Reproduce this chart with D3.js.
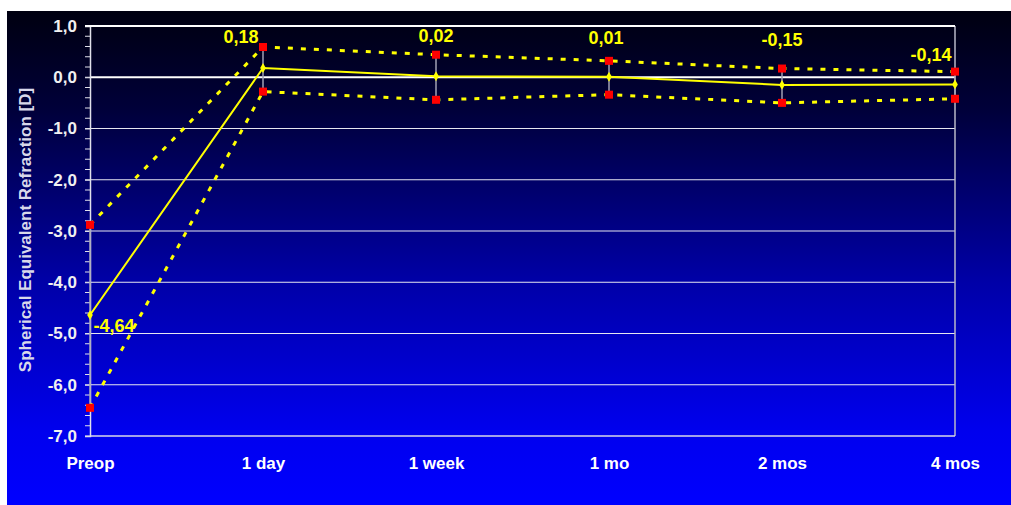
<!DOCTYPE html>
<html>
<head>
<meta charset="utf-8">
<script src="https://cdn.jsdelivr.net/npm/d3@7/dist/d3.min.js"></script>
<style>
  html, body { margin: 0; padding: 0; background: #ffffff; }
  svg { display: block; }
  text { font-family: "Liberation Sans", Arial, sans-serif; font-weight: bold; }
</style>
</head>
<body>
<svg id="chart" width="1011" height="505"></svg>
<script>
// Follow-up visits
const categories = ["Preop", "1 day", "1 week", "1 mo", "2 mos", "4 mos"];
// Mean spherical equivalent refraction (D)
const meanValues = [-4.64, 0.18, 0.02, 0.01, -0.15, -0.14];
// Upper and lower bounds of the spread at each visit (D)
const upperValues = [-2.88, 0.59, 0.44, 0.32, 0.17, 0.11];
const lowerValues = [-6.45, -0.28, -0.44, -0.34, -0.50, -0.42];
// Y axis tick labels
const yTicks = [1, 0, -1, -2, -3, -4, -5, -6, -7];
const yTickLabels = ["1,0", "0,0", "-1,0", "-2,0", "-3,0", "-4,0", "-5,0", "-6,0", "-7,0"];

const svg = d3.select("#chart");
const W = 1011, H = 505;
const plot = { left: 90, right: 955, top: 26, bottom: 436 };

// Background gradient panel
const defs = svg.append("defs");
const grad = defs.append("linearGradient")
  .attr("id", "bg").attr("x1", 0).attr("y1", 0).attr("x2", 0).attr("y2", 1);
grad.append("stop").attr("offset", "0%").attr("stop-color", "#000010");
grad.append("stop").attr("offset", "20%").attr("stop-color", "#00003a");
grad.append("stop").attr("offset", "55%").attr("stop-color", "#0000a8");
grad.append("stop").attr("offset", "85%").attr("stop-color", "#0000ee");
grad.append("stop").attr("offset", "100%").attr("stop-color", "#0000ff");
svg.append("rect").attr("x", 7).attr("y", 11).attr("width", W - 7).attr("height", H - 11)
  .attr("fill", "url(#bg)");

const x = d3.scalePoint().domain(categories).range([plot.left, plot.right]);
const y = d3.scaleLinear().domain([-7, 1]).range([plot.bottom, plot.top]);

// Horizontal gridlines
svg.append("g").selectAll("line").data(yTicks.filter(v => v !== 0 && v !== -7)).join("line")
  .attr("x1", plot.left).attr("x2", plot.right)
  .attr("y1", d => y(d)).attr("y2", d => y(d))
  .attr("stroke", "#e6e6f0").attr("stroke-width", 1);

// Plot frame: right and bottom edges
svg.append("line").attr("x1", plot.right).attr("x2", plot.right)
  .attr("y1", plot.top).attr("y2", plot.bottom).attr("stroke", "#b8b8c8").attr("stroke-width", 1.5);
svg.append("line").attr("x1", plot.left).attr("x2", plot.right)
  .attr("y1", plot.bottom).attr("y2", plot.bottom).attr("stroke", "#d8d8e8").attr("stroke-width", 1.5);

// Zero reference line
svg.append("line").attr("x1", plot.left).attr("x2", plot.right)
  .attr("y1", y(0)).attr("y2", y(0)).attr("stroke", "#ffffff").attr("stroke-width", 2);

// Y axis with major and minor ticks
const minor = d3.range(-7, 1.0001, 0.2);
svg.append("g").selectAll("line").data(minor).join("line")
  .attr("x1", plot.left - 5).attr("x2", plot.left)
  .attr("y1", d => y(d)).attr("y2", d => y(d))
  .attr("stroke", "#e0e0ea").attr("stroke-width", 1);
const yAxis = d3.axisLeft(y).tickValues(yTicks)
  .tickFormat((d, i) => yTickLabels[i]).tickSize(5).tickPadding(8);
const gy = svg.append("g").attr("transform", `translate(${plot.left},0)`).call(yAxis);
gy.select(".domain").attr("stroke", "#e0e0ea").attr("stroke-width", 1.5);
gy.selectAll(".tick line").attr("stroke", "#e0e0ea");
gy.selectAll(".tick text").attr("fill", "#f0f0f0").attr("font-size", 17)
  .attr("font-weight", "bold").attr("font-family", "Liberation Sans, Arial, sans-serif");
// Top gridline at 1,0 drawn over the axis
svg.append("line").attr("x1", plot.left - 5).attr("x2", plot.right)
  .attr("y1", y(1)).attr("y2", y(1)).attr("stroke", "#ffffff").attr("stroke-width", 2);

// X axis labels
const xAxis = d3.axisBottom(x).tickSize(0).tickPadding(21);
const gx = svg.append("g").attr("transform", `translate(0,${plot.bottom})`).call(xAxis);
gx.select(".domain").remove();
gx.selectAll(".tick text").attr("fill", "#ffffff").attr("font-size", 17)
  .attr("font-weight", "bold").attr("font-family", "Liberation Sans, Arial, sans-serif");

// Y axis title
svg.append("text")
  .attr("transform", `translate(31,230) rotate(-90)`)
  .attr("text-anchor", "middle").attr("fill", "#d8d8ea").attr("font-size", 17)
  .text("Spherical Equivalent Refraction [D]");

// Vertical spread bars
svg.append("g").selectAll("line").data(categories).join("line")
  .attr("x1", d => x(d)).attr("x2", d => x(d))
  .attr("y1", (d, i) => y(upperValues[i])).attr("y2", (d, i) => y(lowerValues[i]))
  .attr("stroke", "#a0a0b4").attr("stroke-width", 1.5);

// Dashed bound lines
const line = d3.line().x((d, i) => x(categories[i])).y(d => y(d));
[upperValues, lowerValues].forEach(vals => {
  svg.append("path").datum(vals).attr("d", line)
    .attr("fill", "none").attr("stroke", "#ffff00").attr("stroke-width", 3)
    .attr("stroke-dasharray", "5,8");
});

// Mean line
svg.append("path").datum(meanValues).attr("d", line)
  .attr("fill", "none").attr("stroke", "#ffff00").attr("stroke-width", 2);

// Mean markers
svg.append("g").selectAll("path").data(meanValues).join("path")
  .attr("d", d3.symbol().type(d3.symbolDiamond).size(28))
  .attr("transform", (d, i) => `translate(${x(categories[i])},${y(d)})`)
  .attr("fill", "#ffff00");

// Bound markers
[upperValues, lowerValues].forEach(vals => {
  svg.append("g").selectAll("rect").data(vals).join("rect")
    .attr("x", (d, i) => x(categories[i]) - 4).attr("y", d => y(d) - 4)
    .attr("width", 8).attr("height", 8).attr("fill", "#ff0000");
});

// Value labels
const fmt = v => v.toFixed(2).replace(".", ",");
const labelOffsets = [[24, 12], [-22, -30], [0, -39], [-3, -37], [0, -44], [-24, -28]];
svg.append("g").selectAll("text").data(meanValues).join("text")
  .attr("x", (d, i) => x(categories[i]) + labelOffsets[i][0])
  .attr("y", (d, i) => y(d) + labelOffsets[i][1])
  .attr("text-anchor", "middle").attr("dominant-baseline", "middle")
  .attr("fill", "#ffff00").attr("font-size", 18)
  .text(d => fmt(d));
</script>
</body>
</html>
